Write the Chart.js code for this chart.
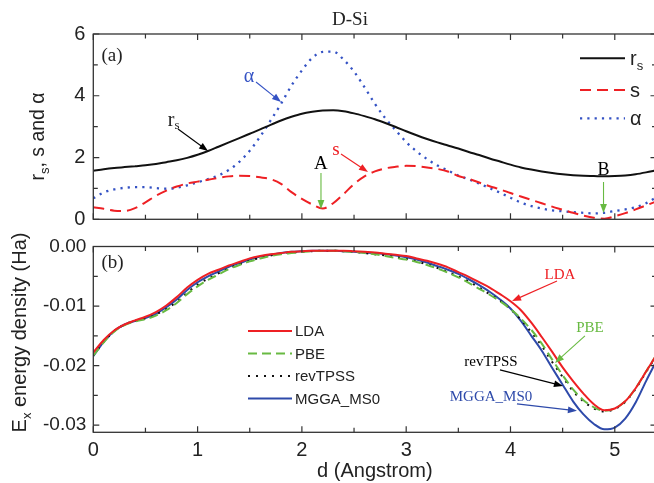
<!DOCTYPE html>
<html><head><meta charset="utf-8"><title>D-Si</title>
<script src="https://cdn.jsdelivr.net/npm/chart.js@4.4.1/dist/chart.umd.min.js"></script>
<style>
html,body{margin:0;padding:0;background:#fff;}
#wrap{position:relative;width:654px;height:483px;overflow:hidden;background:#fff}
#wrap canvas{position:absolute;left:0}
</style></head><body>
<div id="wrap">
<canvas id="cTop" width="680" height="240" style="top:0"></canvas>
<canvas id="cBot" width="680" height="268" style="top:215px"></canvas>
</div>
<script>
// ---------- data ----------
const dGrid = [0.0,0.1,0.2,0.3,0.4,0.5,0.6,0.7,0.8,0.9,
  1.0,1.1,1.2,1.3,1.4,1.5,1.6,1.7,1.8,1.9,
  2.0,2.1,2.2,2.3,2.4,2.5,2.6,2.7,2.8,2.9,
  3.0,3.1,3.2,3.3,3.4,3.5,3.6,3.7,3.8,3.9,
  4.0,4.1,4.2,4.3,4.4,4.5,4.6,4.7,4.8,4.9,
  5.0,5.1,5.2,5.3,5.4];

const rsVals = [1.57,1.62,1.66,1.69,1.72,1.75,1.79,1.85,1.91,1.99,
  2.09,2.21,2.35,2.49,2.63,2.77,2.91,3.06,3.20,3.32,
  3.42,3.48,3.52,3.53,3.50,3.43,3.34,3.24,3.12,2.99,
  2.85,2.72,2.60,2.49,2.39,2.29,2.18,2.08,1.97,1.87,
  1.77,1.68,1.61,1.55,1.50,1.46,1.43,1.41,1.40,1.39,
  1.40,1.42,1.46,1.52,1.59];

const sVals = [0.39,0.34,0.28,0.27,0.36,0.55,0.76,0.93,1.06,1.16,
  1.22,1.28,1.34,1.39,1.41,1.40,1.36,1.30,1.15,0.88,
  0.66,0.48,0.35,0.52,0.82,1.14,1.39,1.55,1.65,1.70,
  1.73,1.72,1.68,1.63,1.55,1.40,1.31,1.19,1.07,0.97,
  0.85,0.74,0.63,0.52,0.41,0.31,0.21,0.12,0.05,0.02,
  0.10,0.20,0.32,0.45,0.58];

const alphaVals = [0.68,0.87,0.97,1.02,1.04,1.04,1.01,0.99,1.02,1.10,
  1.20,1.30,1.42,1.60,1.86,2.22,2.68,3.20,3.74,4.33,
  4.82,5.23,5.42,5.43,5.17,4.78,4.28,3.74,3.27,2.88,
  2.50,2.20,1.95,1.74,1.58,1.42,1.29,1.16,1.01,0.86,
  0.70,0.54,0.43,0.35,0.29,0.26,0.23,0.21,0.19,0.21,
  0.27,0.32,0.39,0.52,0.72];

const ldaVals = [-0.0178,-0.0157,-0.0141,-0.0131,-0.0124,-0.0118,-0.0110,-0.0099,-0.0085,-0.0069,
  -0.0056,-0.0046,-0.0039,-0.0032,-0.0026,-0.0020,-0.0016,-0.0013,-0.0011,-0.0009,
  -0.0008,-0.0007,-0.0007,-0.0007,-0.0007,-0.0008,-0.0009,-0.0010,-0.0012,-0.0014,
  -0.0016,-0.0020,-0.0024,-0.0029,-0.0035,-0.0043,-0.0051,-0.0060,-0.0069,-0.0080,
  -0.0092,-0.0107,-0.0128,-0.0152,-0.0177,-0.0203,-0.0226,-0.0247,-0.0265,-0.0275,
  -0.0272,-0.0260,-0.0238,-0.0210,-0.0182];

const pbeVals = [-0.0183,-0.0161,-0.0143,-0.0132,-0.0126,-0.0122,-0.0116,-0.0107,-0.0095,-0.0080,
  -0.0067,-0.0056,-0.0047,-0.0038,-0.0031,-0.0025,-0.0020,-0.0016,-0.0013,-0.0011,
  -0.0009,-0.0008,-0.0007,-0.0007,-0.0008,-0.0009,-0.0011,-0.0013,-0.0016,-0.0019,
  -0.0022,-0.0026,-0.0031,-0.0037,-0.0044,-0.0052,-0.0061,-0.0071,-0.0081,-0.0092,
  -0.0105,-0.0121,-0.0140,-0.0163,-0.0190,-0.0216,-0.0240,-0.0258,-0.0270,-0.0276,
  -0.0272,-0.0260,-0.0238,-0.0210,-0.0182];

const revVals = [-0.0183,-0.0160,-0.0142,-0.0131,-0.0125,-0.0121,-0.0114,-0.0105,-0.0093,-0.0078,
  -0.0064,-0.0054,-0.0045,-0.0037,-0.0030,-0.0024,-0.0019,-0.0015,-0.0012,-0.0010,
  -0.0009,-0.0008,-0.0007,-0.0007,-0.0008,-0.0009,-0.0011,-0.0013,-0.0015,-0.0018,
  -0.0021,-0.0025,-0.0030,-0.0036,-0.0043,-0.0050,-0.0059,-0.0069,-0.0080,-0.0091,
  -0.0105,-0.0123,-0.0144,-0.0167,-0.0194,-0.0219,-0.0243,-0.0260,-0.0272,-0.0277,
  -0.0273,-0.0261,-0.0239,-0.0211,-0.0183];

const ms0Vals = [-0.0184,-0.0160,-0.0142,-0.0131,-0.0125,-0.0120,-0.0113,-0.0102,-0.0089,-0.0073,
  -0.0060,-0.0050,-0.0042,-0.0034,-0.0028,-0.0022,-0.0017,-0.0014,-0.0011,-0.0009,
  -0.0008,-0.0007,-0.0007,-0.0007,-0.0008,-0.0009,-0.0010,-0.0011,-0.0013,-0.0015,
  -0.0018,-0.0022,-0.0027,-0.0033,-0.0039,-0.0046,-0.0055,-0.0065,-0.0076,-0.0089,
  -0.0104,-0.0125,-0.0150,-0.0175,-0.0204,-0.0232,-0.0260,-0.0282,-0.0298,-0.0307,
  -0.0304,-0.0289,-0.0262,-0.0226,-0.0192];

const topSeriesNames = ['r_{s}', 's', 'α'];
const botSeriesNames = ['LDA', 'PBE', 'revTPSS', 'MGGA_MS0'];
const xTickStep = 1;
const topYTickStep = 2;
const botYTickStep = 0.01;

// ---------- styling helpers ----------
const SANS = '"Liberation Sans", Arial, sans-serif';
const SERIF = '"Liberation Serif", "Times New Roman", serif';
const INK = '#222';
const RED = 'rgb(238,32,36)';
const BLUE_DOT = 'rgb(52,82,196)';
const BLUE = 'rgb(46,74,170)';
const GREEN = 'rgb(104,186,66)';

function pts(vals){ return dGrid.map((d,i)=>({x:d, y:vals[i]})); }

// "a_{b}" -> segments with subscript
function rich(text, size, family){
  const segs=[]; const re=/_\{([^}]*)\}/g; let last=0, m;
  while((m=re.exec(text))){
    if(m.index>last) segs.push({t:text.slice(last,m.index), font:size+'px '+family, dy:0});
    segs.push({t:m[1], font:Math.round(size*0.65)+'px '+family, dy:size*0.26});
    last=re.lastIndex;
  }
  if(last<text.length) segs.push({t:text.slice(last), font:size+'px '+family, dy:0});
  return segs;
}
function drawRich(ctx, segs, x, y, align){
  let w=0; segs.forEach(s=>{ctx.font=s.font; s.w=ctx.measureText(s.t).width; w+=s.w;});
  let cx = align==='center' ? x-w/2 : x;
  ctx.textAlign='left';
  segs.forEach(s=>{ctx.font=s.font; ctx.fillText(s.t, cx, y+s.dy); cx+=s.w;});
}
function drawArrow(ctx,x1,y1,x2,y2,color){
  const ang=Math.atan2(y2-y1,x2-x1), hl=9, hw=3.4;
  ctx.strokeStyle=color; ctx.fillStyle=color; ctx.lineWidth=1.1; ctx.setLineDash([]);
  ctx.beginPath(); ctx.moveTo(x1,y1); ctx.lineTo(x2-Math.cos(ang)*hl*0.7, y2-Math.sin(ang)*hl*0.7); ctx.stroke();
  ctx.beginPath(); ctx.moveTo(x2,y2);
  ctx.lineTo(x2-hl*Math.cos(ang)+hw*Math.sin(ang), y2-hl*Math.sin(ang)-hw*Math.cos(ang));
  ctx.lineTo(x2-hl*Math.cos(ang)-hw*Math.sin(ang), y2-hl*Math.sin(ang)+hw*Math.cos(ang));
  ctx.closePath(); ctx.fill();
}

const decor = {
  id:'decor',
  afterDatasetsDraw(chart, args, o){
    const ctx=chart.ctx, a=chart.chartArea, xs=chart.scales.x, ys=chart.scales.y;
    ctx.save();
    ctx.setLineDash([]);
    // frame
    ctx.strokeStyle='#333'; ctx.lineWidth=1.3;
    ctx.strokeRect(a.left, a.top, a.right-a.left, a.bottom-a.top);
    // inward ticks (major + minor) on all sides
    const marks=(min,max,minor,major)=>{const out=[];
      for(let k=Math.ceil(min/minor-1e-6);k<=Math.floor(max/minor+1e-6);k++){const v=k*minor;
        out.push({v, major:Math.abs(v/major-Math.round(v/major))<1e-6});}
      return out;};
    ctx.lineWidth=1.2; ctx.beginPath();
    marks(xs.min,xs.max,o.xMajor/2,o.xMajor).forEach(m=>{const p=xs.getPixelForValue(m.v), L=m.major?6:4.5;
      ctx.moveTo(p,a.bottom); ctx.lineTo(p,a.bottom-L); ctx.moveTo(p,a.top); ctx.lineTo(p,a.top+L);});
    marks(ys.min,ys.max,o.yMajor/2,o.yMajor).forEach(m=>{const p=ys.getPixelForValue(m.v), L=m.major?6:4.5;
      ctx.moveTo(a.left,p); ctx.lineTo(a.left+L,p); ctx.moveTo(a.right,p); ctx.lineTo(a.right-L,p);});
    ctx.stroke();
    // legend inside plot
    if(o.legend){
      const L=o.legend;
      chart.data.datasets.forEach((ds,i)=>{
        const y=L.ys[i];
        ctx.save();
        ctx.strokeStyle=ds.borderColor; ctx.lineWidth=ds.borderWidth;
        ctx.setLineDash(ds.borderDash||[]); ctx.lineCap=ds.borderCapStyle||'butt';
        ctx.beginPath(); ctx.moveTo(L.x1,y); ctx.lineTo(L.x2,y); ctx.stroke();
        ctx.restore();
        ctx.fillStyle=INK; ctx.textBaseline='alphabetic';
        drawRich(ctx, rich(ds.label, L.size, SANS), L.tx, y+L.dy, 'left');
      });
    }
    // annotations in data coordinates
    (o.notes||[]).forEach(n=>{
      if(n.arrow){
        drawArrow(ctx, xs.getPixelForValue(n.arrow[0]), ys.getPixelForValue(n.arrow[1]),
                       xs.getPixelForValue(n.arrow[2]), ys.getPixelForValue(n.arrow[3]), n.acolor||n.color);
      }
      ctx.fillStyle=n.color; ctx.textBaseline='middle';
      drawRich(ctx, rich(n.text, n.size, SERIF), xs.getPixelForValue(n.x), ys.getPixelForValue(n.y), 'center');
    });
    // panel label
    if(o.panel){ ctx.fillStyle=INK; ctx.textBaseline='alphabetic'; ctx.textAlign='left';
      ctx.font=o.panel.size+'px '+SERIF; ctx.fillText(o.panel.text, o.panel.x, o.panel.y); }
    // chart title
    if(o.title){ ctx.fillStyle=INK; ctx.textBaseline='alphabetic'; ctx.textAlign='center';
      ctx.font=o.title.size+'px '+SERIF; ctx.fillText(o.title.text, o.title.x, o.title.y); }
    // rotated y title with subscript
    if(o.ytitle){
      const t=o.ytitle; ctx.save(); ctx.translate(t.x, t.y); ctx.rotate(-Math.PI/2);
      ctx.fillStyle=INK; ctx.textBaseline='alphabetic';
      drawRich(ctx, rich(t.text, t.size, SANS), 0, 0, 'center');
      ctx.restore();
    }
    ctx.restore();
  }
};

function yAxis(min,max,step,size,pad,fmt){
  return {type:'linear', min, max,
    ticks:{stepSize:step, includeBounds:false, color:INK, padding:pad, font:{family:SANS, size}, callback:fmt},
    grid:{display:false, drawTicks:false}, border:{display:false},
    afterFit(s){ s.width=93.3; }};
}

// ---------- top panel ----------
new Chart(document.getElementById('cTop'), {
  type:'line',
  data:{datasets:[
    {label:topSeriesNames[0], data:pts(rsVals), borderColor:'#111', borderWidth:2},
    {label:topSeriesNames[1], data:pts(sVals), borderColor:RED, borderWidth:2, borderDash:[11,6]},
    {label:topSeriesNames[2], data:pts(alphaVals), borderColor:BLUE_DOT, borderWidth:2.3, borderDash:[2.2,5.1]}
  ]},
  options:{
    responsive:false, animation:false, events:[],
    layout:{padding:{left:0, right:23.5, top:34, bottom:20.7}},
    elements:{point:{radius:0}, line:{cubicInterpolationMode:'monotone', fill:false}},
    scales:{
      x:{type:'linear', min:0, max:5.4, display:false},
      y:yAxis(0, 6, topYTickStep, 20, 8)
    },
    plugins:{legend:{display:false}, tooltip:{enabled:false},
      decor:{
        xMajor:xTickStep, yMajor:topYTickStep,
        legend:{x1:580, x2:625, tx:630, ys:[58.3,90,118.3], dy:6.5, size:20},
        panel:{text:'(a)', x:101.5, y:61, size:19},
        title:{text:'D-Si', x:350, y:25, size:19},
        ytitle:{text:'r_{s}, s and α', x:43.5, y:136.5, size:19.5},
        notes:[
          {text:'α', x:1.493, y:4.61, color:BLUE_DOT, size:20, arrow:[1.56,4.446,1.80,3.798]},
          {text:'r_{s}', x:0.77, y:3.2, color:INK, size:20, arrow:[0.812,2.924,1.10,2.212], acolor:'#000'},
          {text:'s', x:2.327, y:2.23, color:RED, size:19, arrow:[2.375,2.114,2.634,1.532]},
          {text:'A', x:2.183, y:1.80, color:'#000', size:19, arrow:[2.183,1.499,2.183,0.334], acolor:GREEN},
          {text:'B', x:4.892, y:1.60, color:'#000', size:18, arrow:[4.892,1.208,4.892,0.204], acolor:GREEN}
        ]
      }}
  },
  plugins:[decor]
});

// ---------- bottom panel ----------
new Chart(document.getElementById('cBot'), {
  type:'line',
  data:{datasets:[
    {label:botSeriesNames[0], data:pts(ldaVals), borderColor:RED, borderWidth:2},
    {label:botSeriesNames[1], data:pts(pbeVals), borderColor:GREEN, borderWidth:2, borderDash:[9,5]},
    {label:botSeriesNames[2], data:pts(revVals), borderColor:'#111', borderWidth:2, borderDash:[2,6]},
    {label:botSeriesNames[3], data:pts(ms0Vals), borderColor:BLUE, borderWidth:2}
  ]},
  options:{
    responsive:false, animation:false, events:[],
    layout:{padding:{left:0, right:23.5, top:31.5, bottom:0}},
    elements:{point:{radius:0}, line:{cubicInterpolationMode:'monotone', fill:false}},
    scales:{
      x:{type:'linear', min:0, max:5.4, position:'bottom',
        ticks:{stepSize:xTickStep, includeBounds:false, color:INK, padding:6, font:{family:SANS, size:20}},
        title:{display:true, text:'d (Angstrom)', color:INK, font:{family:SANS, size:20}, padding:{top:0,bottom:0}},
        grid:{display:false, drawTicks:false}, border:{display:false},
        afterFit(s){ s.height=50.7; }},
      y:yAxis(-0.0312, 0, botYTickStep, 19, 7, v=>(Math.abs(v)<1e-9?0:v).toFixed(2))
    },
    plugins:{legend:{display:false}, tooltip:{enabled:false},
      decor:{
        xMajor:xTickStep, yMajor:botYTickStep,
        legend:{x1:248, x2:292, tx:295, ys:[116,138.5,161,183.5], dy:5.4, size:15},
        panel:{text:'(b)', x:101.5, y:53, size:19},
        ytitle:{text:'E_{x} energy density (Ha)', x:26, y:117.5, size:20},
        notes:[
          {text:'LDA', x:4.475, y:-0.00478, color:RED, size:15, arrow:[4.446,-0.00579,4.015,-0.00914]},
          {text:'PBE', x:4.762, y:-0.01367, color:GREEN, size:15, arrow:[4.714,-0.01502,4.427,-0.01955]},
          {text:'revTPSS', x:3.813, y:-0.01938, color:'#000', size:15, arrow:[3.899,-0.02072,4.503,-0.02341]},
          {text:'MGGA_MS0', x:3.813, y:-0.02525, color:BLUE, size:15, arrow:[4.062,-0.02643,4.637,-0.0276]}
        ]
      }}
  },
  plugins:[decor]
});
</script></body></html>
